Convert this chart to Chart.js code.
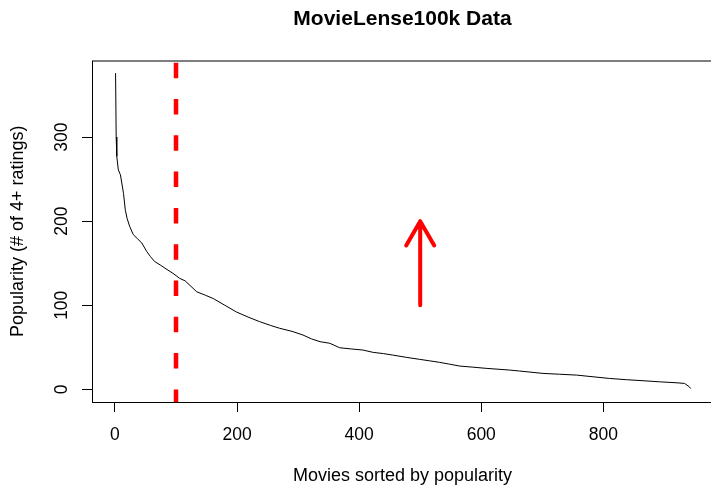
<!DOCTYPE html>
<html>
<head>
<meta charset="utf-8">
<script src="https://cdn.jsdelivr.net/npm/chart.js@4/dist/chart.umd.min.js"></script>
<style>
  html, body { margin: 0; padding: 0; background: #fff; overflow: hidden; }
</style>
</head>
<body>
<canvas id="chart" width="716" height="487"></canvas>
<script>
// movies ranked by popularity (x) and number of 4+ ratings (y)
const movieRank = [1, 2, 3, 5.5, 9, 14, 17, 20, 24, 30, 37, 44, 52, 58, 65, 74, 82, 95, 106, 115,
  134, 148, 161, 180, 199, 218, 237, 255, 270, 290, 308, 322, 336, 352, 368, 388, 406, 423, 440,
  455, 478, 499, 515, 532, 548, 565, 585, 608, 646, 663, 701, 728, 756, 783, 810, 838, 865, 892,
  919, 933, 941, 943];
const popularity = [376, 300, 277, 261, 255, 233, 213, 203, 194, 184, 179, 174, 164, 158, 152, 148, 144, 138, 132, 129,
  116, 112, 108, 100, 92, 86, 80.5, 76, 72.6, 69, 64.6, 60, 56.7, 54.8, 49.5, 48, 46.8, 44, 42.5,
  40.8, 38, 35.7, 34, 32.1, 30, 27.7, 26.5, 25, 23, 21.8, 19, 18, 17, 15, 13, 11.5, 10.3, 9,
  7.9, 7.1, 3, 1];

const xTicks = [0, 200, 400, 600, 800];
const yTicks = [0, 100, 200, 300];
const xLimits = [-37.6, 979.6];
const yLimits = [-15, 391];

const cutoffRank = 100;        // dashed red line
const arrowRank = 500;         // red arrow
const arrowFrom = 100;
const arrowTo = 200;

const FONT = "'Liberation Sans', Arial, Helvetica, sans-serif";

const rDecor = {
  id: 'rDecor',
  afterDraw(chart) {
    const { ctx, chartArea: a, scales: { x, y } } = chart;
    ctx.save();
    // plot box
    ctx.strokeStyle = '#000';
    ctx.lineWidth = 1;
    ctx.strokeRect(a.left + 0.5, a.top + 0.5, a.right - a.left, a.bottom - a.top);

    // rotated y tick labels, R style
    ctx.fillStyle = '#000';
    ctx.font = '17.5px ' + FONT;
    ctx.textAlign = 'center';
    ctx.textBaseline = 'middle';
    yTicks.forEach(v => {
      ctx.save();
      ctx.translate(62, y.getPixelForValue(v));
      ctx.rotate(-Math.PI / 2);
      ctx.fillText(String(v), 0, 0);
      ctx.restore();
    });

    // main title
    ctx.font = 'bold 21px ' + FONT;
    ctx.fillText('MovieLense100k Data', (a.left + a.right) / 2, 19);

    // arrow
    const ax = x.getPixelForValue(arrowRank);
    const y0 = y.getPixelForValue(arrowFrom);
    const y1 = y.getPixelForValue(arrowTo);
    const len = 28, ang = Math.PI / 6;
    ctx.strokeStyle = '#ff0000';
    ctx.lineWidth = 4;
    ctx.lineCap = 'round';
    ctx.lineJoin = 'round';
    ctx.beginPath();
    ctx.moveTo(ax, y0);
    ctx.lineTo(ax, y1);
    ctx.moveTo(ax - len * Math.sin(ang), y1 + len * Math.cos(ang));
    ctx.lineTo(ax, y1);
    ctx.lineTo(ax + len * Math.sin(ang), y1 + len * Math.cos(ang));
    ctx.stroke();
    ctx.restore();
  }
};

new Chart(document.getElementById('chart'), {
  type: 'line',
  data: {
    datasets: [
      {
        data: movieRank.map((r, i) => ({ x: r, y: popularity[i] })),
        borderColor: '#000',
        borderWidth: 1,
        pointRadius: 0,
        tension: 0
      },
      {
        data: [{ x: cutoffRank, y: yLimits[1] }, { x: cutoffRank, y: yLimits[0] }],
        borderColor: '#ff0000',
        borderWidth: 4.5,
        borderDash: [15.5, 20.8],
        borderDashOffset: 34.1,
        pointRadius: 0
      }
    ]
  },
  options: {
    responsive: false,
    animation: false,
    layout: { padding: { top: 60.5, right: 3, bottom: 0, left: 0 } },
    plugins: { legend: { display: false }, tooltip: { enabled: false }, title: { display: false } },
    scales: {
      x: {
        type: 'linear',
        min: xLimits[0],
        max: xLimits[1],
        afterBuildTicks: s => { s.ticks = xTicks.map(v => ({ value: v })); },
        afterFit: s => { s.height = 85; },
        border: { display: false },
        grid: { drawOnChartArea: false, drawTicks: true, tickLength: 10, color: '#000', lineWidth: 1 },
        ticks: { color: '#000', font: { family: FONT, size: 17.5 }, padding: 13, maxRotation: 0 },
        title: {
          display: true,
          text: 'Movies sorted by popularity',
          color: '#000',
          font: { family: FONT, size: 18 },
          padding: { top: 0, bottom: 0 }
        }
      },
      y: {
        type: 'linear',
        min: yLimits[0],
        max: yLimits[1],
        afterBuildTicks: s => { s.ticks = yTicks.map(v => ({ value: v })); },
        afterFit: s => { s.width = 92; },
        border: { display: false },
        grid: { drawOnChartArea: false, drawTicks: true, tickLength: 10, color: '#000', lineWidth: 1 },
        ticks: { display: false },
        title: {
          display: true,
          text: 'Popularity (# of 4+ ratings)',
          color: '#000',
          font: { family: FONT, size: 18 },
          padding: { top: 7.2, bottom: 0 }
        }
      }
    }
  },
  plugins: [rDecor]
});
</script>
</body>
</html>
